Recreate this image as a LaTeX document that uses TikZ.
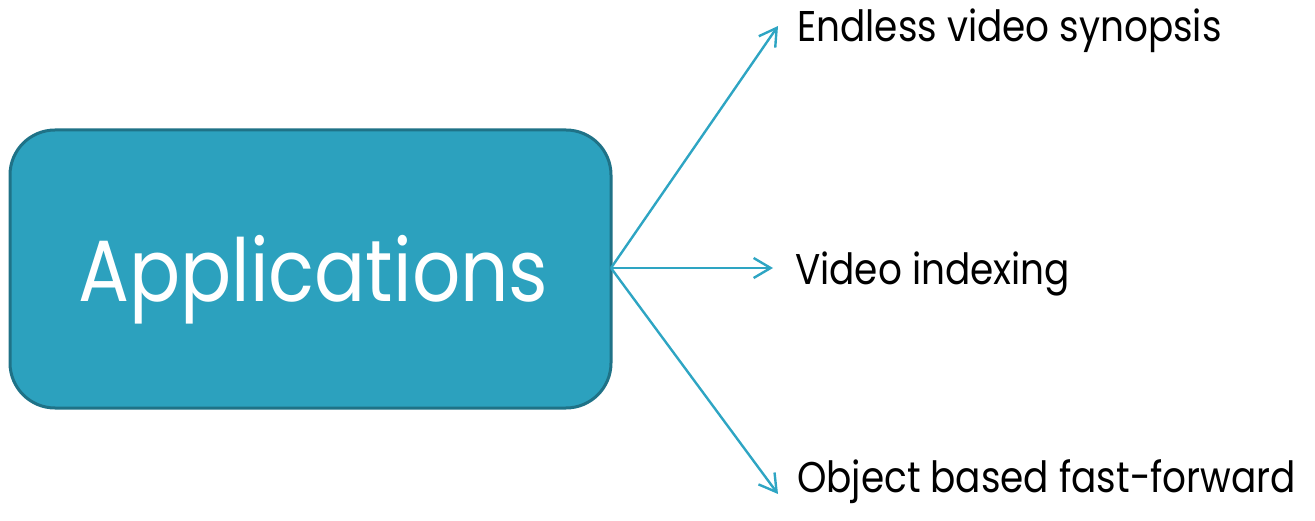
\documentclass[tikz,border=0pt]{standalone}
\usepackage{fontspec}
\usepackage{graphicx}
\setmainfont{Poppins}
\usetikzlibrary{arrows.meta}
\definecolor{boxfill}{HTML}{2CA1BE}
\definecolor{boxedge}{HTML}{1F7287}
\definecolor{arrowcol}{HTML}{2EA5C3}
% narrow the geometric face horizontally
\newcommand{\narrow}[1]{\scalebox{0.87}[1]{#1}}
\tikzset{
  appbox/.style={draw=boxedge, line width=3pt, fill=boxfill, rounded corners=45pt},
  leaf/.style={anchor=base west, inner sep=0pt, font=\fontsize{43}{50}\selectfont, text=black},
  link/.style={draw=arrowcol, line width=2.4pt, -{Straight Barb[length=17pt,width=20pt,line width=2.4pt]}}
}
\begin{document}
\begin{tikzpicture}[x=1pt,y=-1pt]
  \useasboundingbox (0,0) rectangle (1315,521);
  \draw[appbox] (10,130) rectangle (611,408);
  \node[anchor=base west, inner sep=0pt, text=white, font=\fontsize{87}{100}\selectfont] (app) at (78,302) {\narrow{Applications}};
  \coordinate (hub) at (611,268);
  \node[leaf] (l1) at (797,42) {\narrow{Endless video synopsis}};
  \node[leaf] (l2) at (795,285) {\narrow{Video indexing}};
  \node[leaf] (l3) at (797,492) {\narrow{Object based fast-forward}};
  \coordinate (t1) at (778,26);
  \coordinate (t2) at (773,268);
  \coordinate (t3) at (778,494);
  \draw[link] (hub) -- (t1);
  \draw[link] (hub) -- (t2);
  \draw[link] (hub) -- (t3);
\end{tikzpicture}
\end{document}
